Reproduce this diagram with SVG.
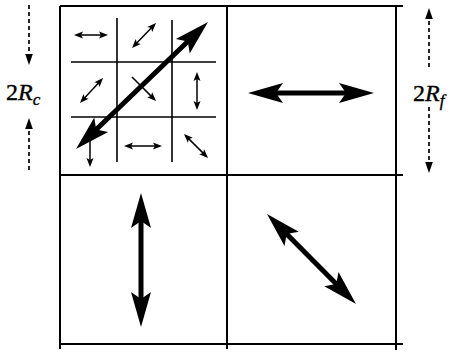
<svg xmlns="http://www.w3.org/2000/svg" width="450" height="352" viewBox="0 0 450 352">
<defs>
<style>
.frame{stroke:#000;stroke-width:2;fill:none}
.grid{stroke:#000;stroke-width:1.6;fill:none}
.sm{stroke:#000;stroke-width:1.5;fill:none;marker-end:url(#hs);marker-start:url(#hs)}
.sm1{stroke:#000;stroke-width:1.5;fill:none;marker-end:url(#hs)}
.big{stroke:#000;stroke-width:5;fill:none;marker-end:url(#hb);marker-start:url(#hb)}
.dash{stroke:#000;stroke-width:1.7;fill:none;stroke-dasharray:4 3;marker-end:url(#hd)}
.lbl{font-family:"Liberation Serif","Times New Roman",serif;font-size:24px;fill:#000;stroke:#000;stroke-width:0.4}
</style>
<marker id="hs" viewBox="-12 -5 14 10" refX="-3" refY="0" markerWidth="14" markerHeight="10" markerUnits="userSpaceOnUse" orient="auto-start-reverse">
<path d="M0,0 L-9,-3.5 L-7,0 L-9,3.5 Z" fill="#000"/>
</marker>
<marker id="hb" viewBox="-38 -11 40 22" refX="-22" refY="0" markerWidth="40" markerHeight="22" markerUnits="userSpaceOnUse" orient="auto-start-reverse">
<path d="M0,0 L-35,-10 L-28,0 L-35,10 Z" fill="#000"/>
</marker>
<marker id="hd" viewBox="-12 -5 14 10" refX="-6" refY="0" markerWidth="14" markerHeight="10" markerUnits="userSpaceOnUse" orient="auto">
<path d="M0,0 L-11,-3.8 L-11,3.8 Z" fill="#000"/>
</marker>
</defs>

<g id="frame">
<line class="frame" x1="60" y1="6" x2="403" y2="6"/>
<line class="frame" x1="60" y1="175" x2="403" y2="175"/>
<line class="frame" x1="60" y1="344" x2="403" y2="344"/>
<line class="frame" x1="60" y1="6" x2="60" y2="349"/>
<line class="frame" x1="227" y1="6" x2="227" y2="349"/>
<line class="frame" x1="396" y1="5" x2="396" y2="350"/>
</g>

<g id="subgrid">
<line class="grid" x1="71" y1="62" x2="216" y2="62"/>
<line class="grid" x1="71" y1="117" x2="216" y2="117"/>
<line class="grid" x1="117" y1="18" x2="117" y2="162"/>
<line class="grid" x1="172" y1="20" x2="172" y2="162"/>
</g>

<g id="connectors">
<line class="sm" x1="77" y1="35" x2="105" y2="35"/>
<line class="sm" x1="134.1" y1="45.8" x2="153.9" y2="25.2"/>
<line class="sm" x1="82" y1="100.8" x2="101" y2="80.2"/>
<line class="sm1" x1="132" y1="77" x2="153.9" y2="98.9"/>
<line class="sm" x1="197" y1="75" x2="197" y2="107"/>
<line class="sm1" x1="90" y1="140" x2="90" y2="164"/>
<line class="sm" x1="127" y1="146" x2="159" y2="146"/>
<line class="sm" x1="186.1" y1="136.1" x2="205.9" y2="155.9"/>
<line class="big" x1="91.85" y1="133.75" x2="192.15" y2="37.25"/>
<line class="big" x1="270" y1="93" x2="352" y2="93"/>
<line class="big" x1="141" y1="215" x2="141" y2="305"/>
<line class="big" x1="282.47" y1="229.64" x2="340.53" y2="288.36"/>
<line class="dash" x1="29" y1="5" x2="29" y2="59"/>
<line class="dash" x1="29" y1="170" x2="29" y2="124"/>
<line class="dash" x1="429" y1="67" x2="429" y2="14"/>
<line class="dash" x1="429" y1="107" x2="429" y2="167"/>
</g>

<g id="label-rc">
<text class="lbl" x="6" y="100">2<tspan font-style="italic">R</tspan><tspan font-style="italic" font-size="17" dy="5">c</tspan></text>
</g>
<g id="label-rf">
<text class="lbl" x="413" y="101">2<tspan font-style="italic">R</tspan><tspan font-style="italic" font-size="17" dy="5">f</tspan></text>
</g>
</svg>
